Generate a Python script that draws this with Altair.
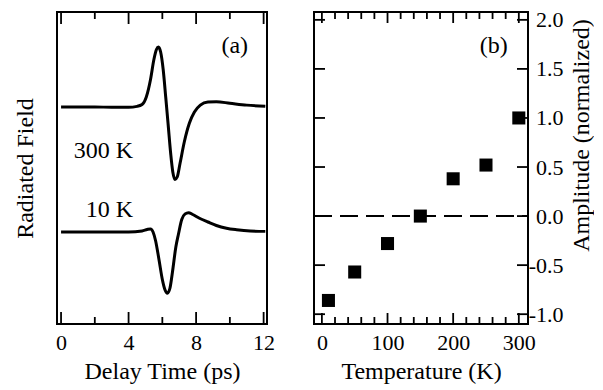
import altair as alt
import pandas as pd

FONT = "Liberation Serif"

# ---- Panel (a): radiated field waveforms (arbitrary units, 10 K baseline = 0, 300 K baseline = 1)
t300 = [0.0, 1.0, 2.0, 3.0, 4.0, 4.5, 4.8, 5.05, 5.3, 5.5, 5.65, 5.77, 5.9, 6.05, 6.2, 6.35,
        6.5, 6.62, 6.75, 6.88, 7.05, 7.3, 7.6, 7.9, 8.25, 8.7, 9.2, 10.0, 11.0, 12.1]
y300 = [1.0, 1.0, 1.0, 0.998, 0.998, 1.005, 1.02, 1.08, 1.22, 1.38, 1.46, 1.48, 1.44, 1.30, 1.08, 0.85,
        0.62, 0.48, 0.42, 0.44, 0.55, 0.72, 0.87, 0.96, 1.015, 1.04, 1.042, 1.03, 1.015, 1.005]
t10 = [0.0, 2.0, 4.0, 4.8, 5.1, 5.3, 5.45, 5.6, 5.8, 6.0, 6.15, 6.3, 6.45, 6.6, 6.8, 6.95,
       7.15, 7.35, 7.55, 7.8, 8.2, 8.7, 9.2, 9.8, 10.4, 11.2, 12.1]
y10 = [0.0, 0.0, 0.0, 0.008, 0.02, 0.025, 0.0, -0.07, -0.22, -0.38, -0.46, -0.49, -0.45, -0.32, -0.12, -0.02,
       0.10, 0.145, 0.155, 0.14, 0.11, 0.08, 0.052, 0.03, 0.018, 0.008, 0.005]

xa_major = [0, 4, 8, 12]
xa_minor = [2, 6, 10]
a_labels = ["(a)", "300 K", "10 K"]
a_label_t = [11.08, 4.27, 4.27]
a_label_y = [1.49, 0.65, 0.176]

# ---- Panel (b): amplitude vs temperature
temps = [10, 50, 100, 150, 200, 250, 300]
amps = [-0.86, -0.57, -0.28, 0.0, 0.38, 0.52, 1.0]
xb_major = [0, 100, 200, 300]
xb_minor = [20, 40, 60, 80, 120, 140, 160, 180, 220, 240, 260, 280]
yb_ticks = [-1.0, -0.5, 0.0, 0.5, 1.0, 1.5, 2.0]
b_label = ["(b)"]
b_label_t = [283]
b_label_y = [1.736]

WA, HA = 210, 312
WB, HB = 214, 312
MAJ, MIN = 12, 7

waves = pd.concat([
    pd.DataFrame({"t": t300, "y": y300, "s": "300 K"}),
    pd.DataFrame({"t": t10, "y": y10, "s": "10 K"}),
])

xs_a = alt.Scale(domain=[-0.24, 12.2], nice=False, zero=False)
ys_a = alt.Scale(domain=[-0.736, 1.76], nice=False, zero=False)

lines = alt.Chart(waves).mark_line(color="black", strokeWidth=3, interpolate="monotone").encode(
    x=alt.X("t:Q", scale=xs_a, axis=alt.Axis(values=xa_major, ticks=False, tickSize=0, domain=False,
                                              grid=False, labelPadding=8, titlePadding=6,
                                              title="Delay Time (ps)")),
    y=alt.Y("y:Q", scale=ys_a, axis=alt.Axis(labels=False, ticks=False, tickSize=0, domain=False,
                                              grid=False, title="Radiated Field", titlePadding=20)),
    detail="s:N",
)

a_text = alt.Chart(pd.DataFrame({"t": a_label_t, "y": a_label_y, "l": a_labels})).mark_text(
    font=FONT, fontSize=24, align="right", baseline="middle", color="black"
).encode(x=alt.X("t:Q", scale=xs_a), y=alt.Y("y:Q", scale=ys_a), text="l:N")

def xticks(vals, scale, H, L, field="v"):
    df = pd.DataFrame({field: vals})
    bot = alt.Chart(df).mark_rule(color="black", strokeWidth=1.8).encode(
        x=alt.X(f"{field}:Q", scale=scale), y=alt.value(H), y2=alt.value(H - L))
    top = alt.Chart(df).mark_rule(color="black", strokeWidth=1.8).encode(
        x=alt.X(f"{field}:Q", scale=scale), y=alt.value(0), y2=alt.value(L))
    return [bot, top]

panel_a = alt.layer(
    lines, a_text,
    *xticks(xa_major, xs_a, HA, MAJ, "t"),
    *xticks(xa_minor, xs_a, HA, MIN, "t"),
).properties(width=WA, height=HA)

# ---- Panel (b)
xs_b = alt.Scale(domain=[-12, 314], nice=False, zero=False)
ys_b = alt.Scale(domain=[-1.1, 2.08], nice=False, zero=False)

pts = alt.Chart(pd.DataFrame({"T": temps, "A": amps})).mark_point(
    shape="square", filled=True, size=170, color="black", opacity=1
).encode(
    x=alt.X("T:Q", scale=xs_b, axis=alt.Axis(values=xb_major, ticks=False, tickSize=0, domain=False,
                                              grid=False, labelPadding=8, titlePadding=6,
                                              title="Temperature (K)")),
    y=alt.Y("A:Q", scale=ys_b, axis=alt.Axis(orient="right", values=yb_ticks, ticks=False, tickSize=0,
                                              domain=False, grid=False, labelAlign="right",
                                              labelBaseline="middle", labelPadding=35,
                                              labelExpr="(datum.value < 0 ? '-' : '') + format(abs(datum.value), '.1f')",
                                              title="Amplitude (normalized)", titleAngle=270,
                                              titleBaseline="top", titlePadding=6, titleY=123)),
)

zero = alt.Chart(pd.DataFrame({"z": [0.0]})).mark_rule(color="black", strokeWidth=2, strokeDash=[18, 8]).encode(
    y=alt.Y("z:Q", scale=ys_b), x=alt.value(0), x2=alt.value(WB))

b_text = alt.Chart(pd.DataFrame({"T": b_label_t, "A": b_label_y, "l": b_label})).mark_text(
    font=FONT, fontSize=24, align="right", baseline="middle", color="black"
).encode(x=alt.X("T:Q", scale=xs_b), y=alt.Y("A:Q", scale=ys_b), text="l:N")

ydf = pd.DataFrame({"A": yb_ticks})
yl = alt.Chart(ydf).mark_rule(color="black", strokeWidth=1.8).encode(
    y=alt.Y("A:Q", scale=ys_b), x=alt.value(0), x2=alt.value(11))
yr = alt.Chart(ydf).mark_rule(color="black", strokeWidth=1.8).encode(
    y=alt.Y("A:Q", scale=ys_b), x=alt.value(WB - 11), x2=alt.value(WB))

panel_b = alt.layer(
    zero, pts, b_text, yl, yr,
    *xticks(xb_major, xs_b, HB, 11, "T"),
    *xticks(xb_minor, xs_b, HB, MIN, "T"),
).properties(width=WB, height=HB)

chart = alt.hconcat(panel_a, panel_b, spacing=36).properties(
    padding={"left": 12, "top": 7, "right": 0, "bottom": 0},
    background="white",
).configure_view(stroke="black", strokeWidth=2).configure_axis(
    labelFont=FONT, titleFont=FONT, labelFontSize=22, titleFontSize=24,
    labelColor="black", titleColor="black", titleFontWeight="normal"
).configure_text(font=FONT)

chart.save("out.html", embed_options={"renderer": "svg", "actions": False})
